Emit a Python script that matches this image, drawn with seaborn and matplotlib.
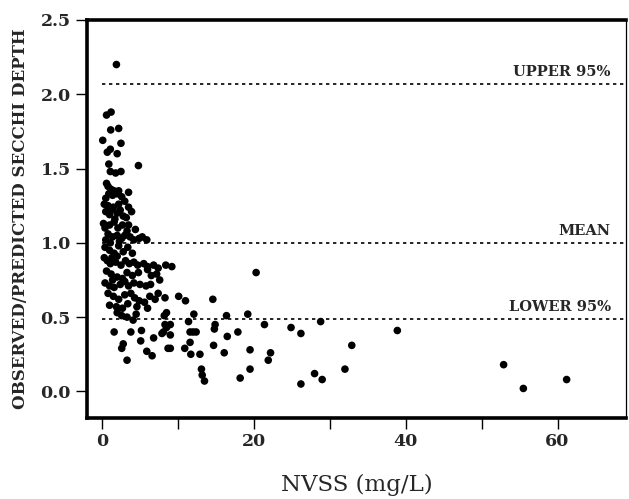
import numpy as np
import pandas as pd
import matplotlib
matplotlib.use("Agg")
import matplotlib.pyplot as plt
import seaborn as sns

# NVSS (mg/L) and observed/predicted Secchi depth
nvss = [
    1.9,
    0.6, 1.2, 1.15, 2.2, 0.1, 2.5, 0.7, 1.1, 2.0, 0.9, 4.8, 1.1, 1.8, 2.5,
    0.6, 0.8, 1.2, 1.6, 2.0, 1.4, 2.2, 3.5, 0.9, 2.6, 3.0, 0.5,
    0.3, 0.8, 1.2, 1.5, 2.0, 2.4, 2.8, 3.2, 3.9, 1.0, 1.7, 0.5, 2.2, 3.5,
    0.2, 0.4, 1.0, 1.6, 2.1, 2.7, 3.3, 0.8, 1.4, 2.0, 2.6, 3.0, 3.7, 4.2,
    4.9, 5.3, 5.9, 1.1, 2.3, 0.5, 3.5, 4.4,
    0.4, 1.0, 1.6, 2.2, 2.8, 1.3, 0.3, 0.7, 1.1, 1.8, 2.5, 3.1, 3.6, 4.2,
    4.7, 5.5, 6.0, 6.8, 7.4, 8.4, 9.2, 3.4, 4.0, 2.0,
    0.6, 1.2, 2.0, 3.3, 4.0, 4.8, 6.0, 6.5, 7.2, 0.4, 1.0, 1.6, 2.4, 3.0,
    3.5, 4.2, 5.0, 5.8, 6.4, 7.6, 2.7, 1.4,
    0.8, 1.5, 2.2, 3.0, 3.8, 4.3, 4.9, 5.6, 6.3, 7.0, 7.4, 8.3, 10.1, 11.0,
    14.6, 1.0, 1.9, 2.7, 3.4, 4.6, 6.0,
    2.0, 2.6, 3.3, 4.1, 4.5, 8.2, 8.5, 12.1, 16.4, 19.2, 8.3, 9.0, 11.4, 14.9,
    21.4, 28.8,
    1.6, 3.8, 5.2, 8.1, 8.5, 7.9, 2.8, 2.6, 5.1, 6.8, 5.9, 6.6, 8.7, 3.3,
    14.8, 17.9, 11.6, 12.0, 12.4, 9.0, 16.5, 11.6, 14.7, 10.9, 19.5, 9.0, 11.7,
    12.9, 16.1, 22.2, 21.9, 13.1, 13.2, 13.5, 19.5, 18.2,
    24.9, 26.2, 32.9, 32.0, 28.0, 29.0, 26.2, 38.9, 52.9, 55.5, 61.2, 20.3,
]
ratio = [
    2.20,
    1.86, 1.88, 1.76, 1.77, 1.69, 1.67, 1.61, 1.63, 1.60, 1.53, 1.52, 1.48, 1.47, 1.48,
    1.40, 1.38, 1.36, 1.35, 1.33, 1.32, 1.35, 1.34, 1.33, 1.31, 1.28, 1.30,
    1.26, 1.25, 1.22, 1.24, 1.20, 1.22, 1.18, 1.17, 1.21, 1.19, 1.16, 1.21, 1.26, 1.24,
    1.13, 1.10, 1.12, 1.14, 1.10, 1.12, 1.08, 1.06, 1.04, 1.05, 1.03, 1.05, 1.04, 1.02,
    1.03, 1.04, 1.02, 1.00, 1.01, 1.02, 1.12, 1.09,
    0.97, 0.95, 0.93, 0.98, 0.94, 0.90, 0.90, 0.88, 0.86, 0.87, 0.85, 0.88, 0.86, 0.87,
    0.85, 0.86, 0.84, 0.85, 0.83, 0.85, 0.84, 0.97, 0.93, 0.91,
    0.81, 0.79, 0.77, 0.80, 0.78, 0.80, 0.82, 0.78, 0.79, 0.73, 0.71, 0.70, 0.72, 0.74,
    0.71, 0.73, 0.72, 0.71, 0.72, 0.75, 0.76, 0.75,
    0.66, 0.64, 0.62, 0.65, 0.66, 0.63, 0.61, 0.60, 0.64, 0.62, 0.66, 0.63, 0.64, 0.61,
    0.62, 0.58, 0.57, 0.56, 0.59, 0.57, 0.56,
    0.53, 0.51, 0.50, 0.48, 0.52, 0.51, 0.53, 0.52, 0.51, 0.52, 0.45, 0.45, 0.47, 0.45,
    0.45, 0.47,
    0.40, 0.40, 0.41, 0.40, 0.43, 0.39, 0.32, 0.29, 0.34, 0.36, 0.27, 0.24, 0.29, 0.21,
    0.42, 0.40, 0.40, 0.40, 0.40, 0.38, 0.37, 0.33, 0.31, 0.29, 0.28, 0.29, 0.25,
    0.25, 0.26, 0.26, 0.21, 0.15, 0.11, 0.07, 0.15, 0.09,
    0.43, 0.39, 0.31, 0.15, 0.12, 0.08, 0.05, 0.41, 0.18, 0.02, 0.08, 0.80,
]

ref_names = ["UPPER 95%", "MEAN", "LOWER 95%"]
ref_values = [2.07, 1.0, 0.49]

df = pd.DataFrame({"NVSS": nvss, "Ratio": ratio})

sns.set_style("ticks")
plt.rcParams["font.family"] = ["DejaVu Serif"]

fig = plt.figure(figsize=(6.29, 4.99), dpi=100)
ax = fig.add_axes([0.138, 0.162, 0.857, 0.798])

sns.scatterplot(data=df, x="NVSS", y="Ratio", color="black", s=30,
                edgecolor="none", linewidth=0, ax=ax, legend=False)

# reference lines with their labels
for name, val in zip(ref_names, ref_values):
    ax.hlines(val, 0, 69, colors="black", linestyles=(0, (2, 2.2)), linewidth=1.2)
    ax.text(67, val + 0.03, name, ha="right", va="bottom",
            fontsize=10.5, fontweight="bold")

ax.set_xlim(-2, 69)
ax.set_ylim(-0.18, 2.5)
ax.set_xticks([0, 20, 40, 60])
ax.set_xticks([10, 30, 50], minor=True)
ax.set_yticks([0.0, 0.5, 1.0, 1.5, 2.0, 2.5])
ax.set_yticklabels(["0.0", "0.5", "1.0", "1.5", "2.0", "2.5"])

ax.tick_params(axis="both", which="both", direction="out", length=8,
               width=1.0, color="black", labelsize=12.5)
ax.tick_params(axis="x", which="both", pad=3)
for lab in ax.get_xticklabels() + ax.get_yticklabels():
    lab.set_fontweight("bold")

for side in ["left", "bottom", "top"]:
    ax.spines[side].set_linewidth(2.6)
    ax.spines[side].set_visible(True)
ax.spines["right"].set_visible(True)
ax.spines["right"].set_linewidth(0.9)
for sp in ax.spines.values():
    sp.set_color("black")

ax.set_xlabel("NVSS (mg/L)", fontsize=16.5, labelpad=17)
ax.set_ylabel("OBSERVED/PREDICTED SECCHI DEPTH", fontsize=12,
              fontweight="bold", labelpad=8)

fig.savefig("out.png", dpi=100)
